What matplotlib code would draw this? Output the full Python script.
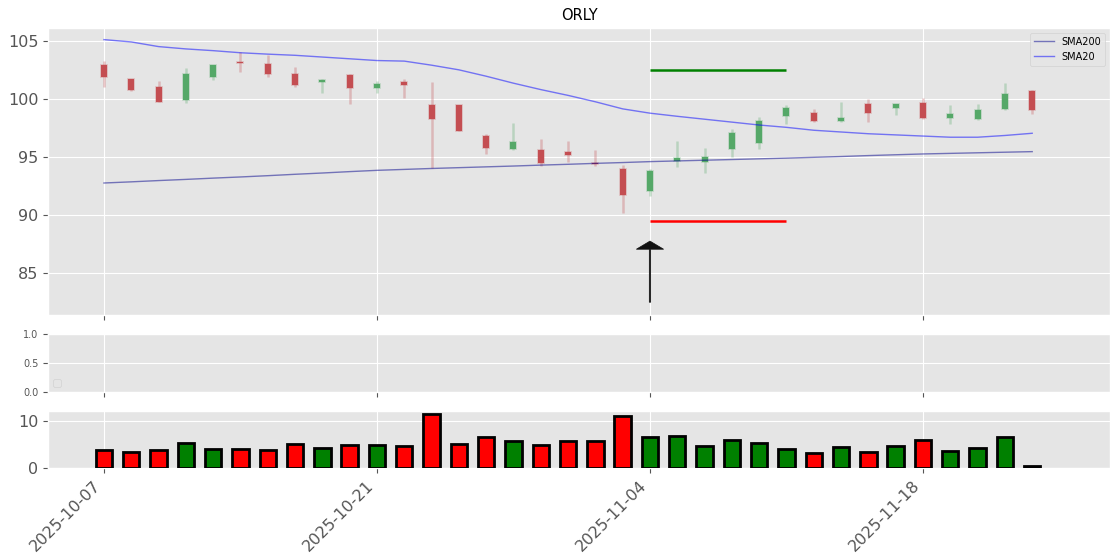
import matplotlib
matplotlib.use("Agg")
import matplotlib.pyplot as plt
from matplotlib.colors import to_rgba

plt.style.use("ggplot")

dates = ["2025-10-07", "2025-10-08", "2025-10-09", "2025-10-10", "2025-10-13",
         "2025-10-14", "2025-10-15", "2025-10-16", "2025-10-17", "2025-10-20",
         "2025-10-21", "2025-10-22", "2025-10-23", "2025-10-24", "2025-10-27",
         "2025-10-28", "2025-10-29", "2025-10-30", "2025-10-31", "2025-11-03",
         "2025-11-04", "2025-11-05", "2025-11-06", "2025-11-07", "2025-11-10",
         "2025-11-11", "2025-11-12", "2025-11-13", "2025-11-14", "2025-11-17",
         "2025-11-18", "2025-11-19", "2025-11-20", "2025-11-21", "2025-11-24"]

opens = [102.93, 101.70, 101.00, 99.90, 101.85, 103.19, 103.00, 102.15, 101.47, 102.07,
         100.95, 101.47, 99.48, 99.48, 96.80, 95.69, 95.60, 95.43, 94.48, 93.97,
         92.07, 94.66, 94.57, 95.69, 96.20, 98.53, 98.79, 98.10, 99.57, 99.22,
         99.66, 98.36, 98.28, 99.14, 100.69]
highs = [103.30, 101.75, 101.55, 102.67, 102.95, 104.05, 103.80, 102.76, 101.70, 102.10,
         101.55, 101.70, 101.47, 99.50, 96.98, 97.93, 96.55, 96.38, 95.60, 94.31,
         94.00, 96.38, 95.78, 97.41, 98.45, 99.48, 99.14, 99.74, 100.00, 99.60,
         100.09, 99.48, 99.57, 101.38, 100.80]
lows = [101.06, 100.70, 99.70, 99.65, 101.64, 102.30, 101.90, 101.05, 100.50, 99.57,
        100.50, 100.09, 94.05, 97.20, 95.26, 95.60, 94.22, 94.57, 94.20, 90.17,
        91.64, 94.14, 93.62, 95.00, 95.69, 97.84, 98.00, 98.05, 98.00, 98.60,
        98.30, 97.84, 98.20, 99.00, 98.70]
closes = [101.90, 100.80, 99.75, 102.15, 102.93, 103.05, 102.15, 101.20, 101.64, 100.95,
          101.30, 101.20, 98.28, 97.24, 95.78, 96.29, 94.48, 95.17, 94.40, 91.72,
          93.79, 94.91, 95.00, 97.07, 98.10, 99.22, 98.10, 98.36, 98.79, 99.57,
          98.36, 98.70, 99.05, 100.43, 99.05]

sma20 = [105.10, 104.90, 104.50, 104.30, 104.15, 103.97, 103.85, 103.75, 103.60, 103.45,
         103.30, 103.25, 102.90, 102.50, 101.95, 101.35, 100.80, 100.30, 99.75, 99.14,
         98.77, 98.50, 98.25, 98.00, 97.75, 97.55, 97.30, 97.15, 97.00, 96.90,
         96.80, 96.70, 96.70, 96.85, 97.04]
sma200 = [92.76, 92.86, 92.97, 93.07, 93.18, 93.28, 93.39, 93.51, 93.62, 93.74,
          93.85, 93.93, 94.01, 94.08, 94.15, 94.22, 94.30, 94.37, 94.45, 94.52,
          94.60, 94.66, 94.72, 94.78, 94.84, 94.90, 94.97, 95.04, 95.12, 95.19,
          95.26, 95.31, 95.36, 95.41, 95.46]

volumes = [3.85, 3.40, 3.85, 5.35, 4.05, 4.05, 3.85, 5.15, 4.30, 4.95,
           4.95, 4.70, 11.55, 5.15, 6.50, 5.80, 4.95, 5.80, 5.80, 11.10,
           6.50, 6.90, 4.70, 6.05, 5.35, 4.05, 3.20, 4.50, 3.40, 4.70,
           6.05, 3.60, 4.30, 6.50, 0.40]
vol_colors = ["red", "red", "red", "green", "green", "red", "red", "red", "green", "red",
              "green", "red", "red", "red", "red", "green", "red", "red", "red", "red",
              "green", "green", "green", "green", "green", "green", "red", "green", "red", "green",
              "red", "green", "green", "green", "black"]

signal_index = 20
target_end_index = 25
take_profit = 102.5
stop_loss = 89.48
arrow_base = 82.5
arrow_tip = 87.76

tick_idx = [0, 10, 20, 30]

UP = "#55A868"
DOWN = "#C44E52"
FS = 11.5

fig = plt.figure(figsize=(11.2, 5.6), dpi=100)
L, W = 48 / 1120, 1062 / 1120
ax = fig.add_axes([L, 1 - 315 / 560, W, 287 / 560])
ax_mid = fig.add_axes([L, 1 - 392 / 560, W, 58 / 560], sharex=ax)
ax_vol = fig.add_axes([L, 1 - 468 / 560, W, 57 / 560], sharex=ax)

x = list(range(len(dates)))
for i in x:
    o, h, l, c = opens[i], highs[i], lows[i], closes[i]
    col = UP if c >= o else DOWN
    ax.vlines(i, l, h, color=col, alpha=0.3, linewidth=1.8, zorder=2)
    ax.bar(i, max(abs(c - o), 0.05), bottom=min(o, c), width=0.22,
           color=col, edgecolor=to_rgba(col, 0.3), linewidth=1.2, zorder=3)

ax.plot(x, sma200, color="darkblue", alpha=0.5, linewidth=1, label="SMA200", zorder=4)
ax.plot(x, sma20, color="blue", alpha=0.5, linewidth=1, label="SMA20", zorder=4)

ax.hlines(take_profit, signal_index, target_end_index, color="green", linewidth=1.8, zorder=4)
ax.hlines(stop_loss, signal_index, target_end_index, color="red", linewidth=1.8, zorder=4)
ax.arrow(signal_index, arrow_base, 0, arrow_tip - arrow_base, width=0.05,
         head_width=1.0, head_length=0.7, length_includes_head=True,
         fc="#111111", ec="#111111", zorder=5)

ax.set_title("ORLY", fontsize=10.5)
ax.set_xlim(-2.05, 36.85)
ax.set_ylim(81.4, 106.1)
ax.set_yticks([85, 90, 95, 100, 105])
ax.tick_params(axis="y", labelsize=FS)
ax.tick_params(axis="x", labelbottom=False)
ax.legend(loc="upper right", fontsize=7)

ax_mid.set_ylim(0, 1)
ax_mid.set_yticks([0.0, 0.5, 1.0])
ax_mid.tick_params(axis="y", labelsize=7)
ax_mid.tick_params(axis="x", labelbottom=False)
ax_mid.legend(handles=[], loc="lower left", fontsize=7)

ax_vol.bar(x, volumes, width=0.6, color=vol_colors, edgecolor="black", linewidth=2, zorder=3)
ax_vol.set_yticks([0, 10])
ax_vol.tick_params(axis="y", labelsize=FS)
ax_vol.set_xticks(tick_idx)
ax_vol.set_xticklabels([dates[i] for i in tick_idx], rotation=45, ha="right", fontsize=FS)
ax.set_xticks(tick_idx)

fig.savefig("out.png", dpi=100)
